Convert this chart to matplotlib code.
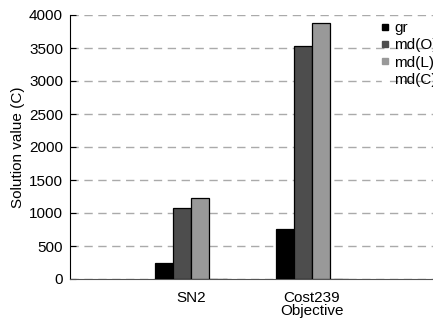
import numpy as np
import matplotlib
matplotlib.use('Agg')
import matplotlib.pyplot as plt
from matplotlib.lines import Line2D

plt.rcParams['font.family'] = ['Liberation Sans', 'DejaVu Sans']
plt.rcParams['font.size'] = 11

categories = ['SN2', 'Cost239']
series = ['gr', 'md(O)', 'md(L)', 'md(C)']
values = {
    'gr': [250, 760],
    'md(O)': [1070, 3530],
    'md(L)': [1220, 3880],
    'md(C)': [0, 0],
}
colors = ['#000000', '#4d4d4d', '#999999', '#ffffff']

fig = plt.figure(figsize=(4.33, 3.22), dpi=100)
# axes runs past the right edge of the figure, like the original crop
ax = fig.add_axes([70/433, 1-279/322, 484/433, 264/322])

x = np.arange(len(categories))
w = 0.149
for i, s in enumerate(series):
    ax.bar(x + (i - 1.5) * w, values[s], w, color=colors[i],
           edgecolor='black', linewidth=0.9, zorder=3)

ax.set_xlim(-1, 3)
ax.set_ylim(0, 4000)
ax.set_yticks(np.arange(0, 4001, 500))
ax.set_xticks(x)
ax.set_xticklabels(categories)
ax.tick_params(axis='x', length=0, pad=8.8)
ax.tick_params(axis='y', direction='in', length=4, pad=5)
ax.yaxis.grid(True, color='#aaaaaa', linestyle=(0, (6, 4)), linewidth=1, zorder=0)
ax.spines['top'].set_visible(False)
ax.spines['right'].set_visible(False)
ax.spines['bottom'].set_color('#555555')
ax.set_ylabel('Solution value (C)', labelpad=3)
ax.set_xlabel('Objective', labelpad=-1)

handles = [Line2D([], [], marker='s', linestyle='none', markersize=4.5,
                  markerfacecolor=c, markeredgecolor=c) for c in colors]
fig.legend(handles, series, loc='upper left', bbox_to_anchor=(381/433, 1-21/322),
           frameon=False, handlelength=0.5, handletextpad=0.37,
           labelspacing=0.22, borderaxespad=0, borderpad=0)

fig.savefig('out.png', dpi=100)
